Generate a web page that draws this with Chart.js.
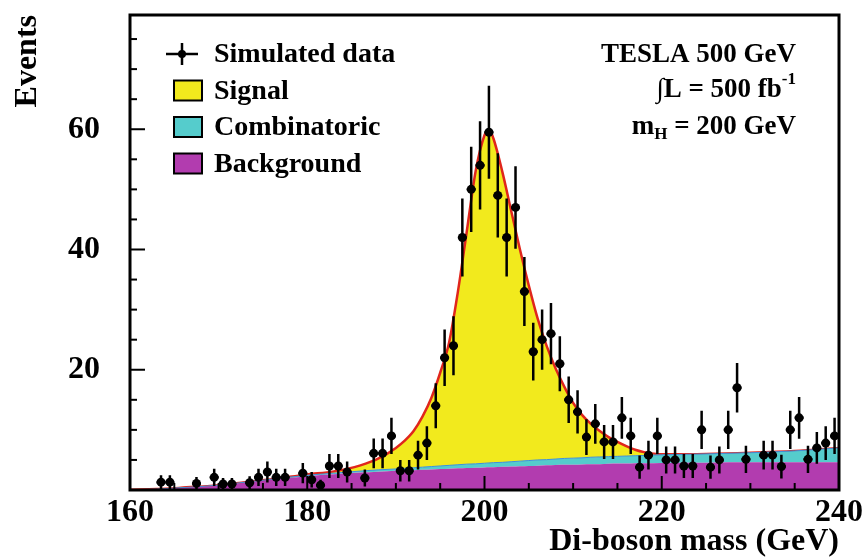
<!DOCTYPE html>
<html>
<head>
<meta charset="utf-8">
<script src="https://cdn.jsdelivr.net/npm/chart.js@4.4.1/dist/chart.umd.min.js"></script>
<style>
  html, body { margin: 0; padding: 0; background: #fff; }
</style>
</head>
<body>
<canvas id="chart-diboson" width="868" height="558"></canvas>
<script>
// measured bins (1 GeV wide), centre of each bin and event count
var mass = [163.5,164.5,167.5,169.5,170.5,171.5,173.5,174.5,175.5,176.5,
            177.5,179.5,180.5,181.5,182.5,183.5,184.5,186.5,187.5,188.5,
            189.5,190.5,191.5,192.5,193.5,194.5,195.5,196.5,197.5,198.5,
            199.5,200.5,201.5,202.5,203.5,204.5,205.5,206.5,207.5,208.5,
            209.5,210.5,211.5,212.5,213.5,214.5,215.5,216.5,217.5,218.5,
            219.5,220.5,221.5,222.5,223.5,224.5,225.5,226.5,227.5,228.5,
            229.5,231.5,232.5,233.5,234.5,235.5,236.5,237.5,238.5,239.5];
var events = [1.3,1.3,1.1,2.1,1.0,1.0,1.2,2.1,3.0,2.1,
              2.1,2.8,1.7,0.8,4.0,4.0,3.0,2.0,6.1,6.1,
              9.0,3.2,3.2,5.8,7.8,14,22,24,42,50,
              54,59.5,49,42,47,33,23,25,26,21,
              15,13,8.8,11,8,8,12,9,3.8,5.8,
              9,5,5,4,4,10,3.8,5,10,17,
              5.1,5.8,5.8,3.9,10,12,5.1,7,7.8,9];

// fit components, stacked: background + combinatoric + signal
var fitMass = [160,163,166,170,173,176,180,183,186,188,
               190,191,192,193,194,195,196,197,198,199,
               200,200.5,201,202,203,204,205,206,207,208,
               209,210,211,212,213,214,215,216,217,218,
               220,225,230,235,240];
var bgFit = [0.05,0.15,0.35,0.7,1.2,1.7,2.3,2.6,2.9,3.05,
             3.2,3.25,3.3,3.35,3.4,3.5,3.55,3.6,3.65,3.7,
             3.75,3.8,3.8,3.85,3.9,3.95,4.0,4.05,4.1,4.15,
             4.2,4.2,4.25,4.3,4.3,4.35,4.4,4.4,4.45,4.45,
             4.5,4.55,4.6,4.6,4.6];
var combFit = [0,0,0.05,0.1,0.1,0.1,0.15,0.2,0.25,0.3,
               0.3,0.35,0.4,0.45,0.5,0.5,0.55,0.6,0.65,0.65,
               0.7,0.7,0.75,0.75,0.8,0.85,0.9,0.95,0.95,1.0,
               1.05,1.1,1.1,1.15,1.2,1.2,1.2,1.25,1.25,1.3,
               1.35,1.45,1.6,1.9,2.4];
var sigFit = [0,0,0,0,0,0,0.15,0.3,0.95,1.85,
              3.5,4.6,6.1,8.4,11.4,15.5,20.4,28.8,38.7,48.65,
              54.55,55.5,53.95,48.4,41.8,35.2,29.1,23.5,18.95,15.15,
              11.95,9.2,7.15,5.55,4.3,3.25,2.4,1.65,1.0,0.55,
              0.1,0,0,0,0];

var massTicks = [160, 180, 200, 220, 240];
var eventTicks = [20, 40, 60];

var serif = '"Liberation Serif", "Times New Roman", serif';

function pts(xs, ys) {
  return xs.map(function(x, i) { return {x: x, y: ys[i]}; });
}

// vertical error bars (sqrt N) and bin-width horizontal bars on the data
var errorBars = {
  id: 'errorBars',
  afterDatasetsDraw: function(chart) {
    var ctx = chart.ctx, xs = chart.scales.x, ys = chart.scales.y;
    ctx.save();
    ctx.strokeStyle = '#000';
    ctx.lineWidth = 2.5;
    mass.forEach(function(m, i) {
      var v = events[i], e = Math.sqrt(v);
      var px = xs.getPixelForValue(m), py = ys.getPixelForValue(v);
      ctx.beginPath();
      ctx.moveTo(px, ys.getPixelForValue(v + e));
      ctx.lineTo(px, ys.getPixelForValue(Math.max(v - e, 0)));
      ctx.moveTo(xs.getPixelForValue(m - 0.5), py);
      ctx.lineTo(xs.getPixelForValue(m + 0.5), py);
      ctx.stroke();
    });
    ctx.restore();
  }
};

// box around the plot with inward tick marks
var frame = {
  id: 'frame',
  afterDraw: function(chart) {
    var ctx = chart.ctx, a = chart.chartArea, xs = chart.scales.x, ys = chart.scales.y;
    ctx.save();
    ctx.strokeStyle = '#000';
    ctx.lineWidth = 2;
    for (var m = xs.min; m <= xs.max; m += 5) {
      var px = xs.getPixelForValue(m), len = massTicks.indexOf(m) >= 0 ? 14 : 7;
      ctx.beginPath(); ctx.moveTo(px, a.bottom); ctx.lineTo(px, a.bottom - len); ctx.stroke();
    }
    for (var v = 5; v < ys.max; v += 5) {
      var py = ys.getPixelForValue(v), l2 = eventTicks.indexOf(v) >= 0 ? 15 : 7;
      ctx.beginPath(); ctx.moveTo(a.left, py); ctx.lineTo(a.left + l2, py); ctx.stroke();
    }
    ctx.lineWidth = 3;
    ctx.strokeRect(a.left, a.top, a.right - a.left, a.bottom - a.top);
    ctx.restore();
  }
};

// legend and run conditions written inside the plot
function richText(ctx, parts, right, y) {
  var total = 0;
  parts.forEach(function(p) {
    ctx.font = 'bold ' + p.s + 'px ' + serif;
    p.w = ctx.measureText(p.t).width;
    total += p.w;
  });
  var x = right - total;
  parts.forEach(function(p) {
    ctx.font = 'bold ' + p.s + 'px ' + serif;
    ctx.fillText(p.t, x, y + (p.dy || 0));
    x += p.w;
  });
}

var annotations = {
  id: 'annotations',
  afterDraw: function(chart) {
    var ctx = chart.ctx, a = chart.chartArea, ds = chart.data.datasets;
    ctx.save();
    ctx.textBaseline = 'middle';
    ctx.textAlign = 'left';
    var order = [0, 3, 2, 1];
    order.forEach(function(k, row) {
      var d = ds[k], y = a.top + 39 + row * 36.5, x0 = a.left + 44;
      ctx.fillStyle = '#000';
      ctx.strokeStyle = '#000';
      if (d.showLine === false) {
        ctx.lineWidth = 2.5;
        ctx.beginPath();
        ctx.moveTo(x0 - 8, y); ctx.lineTo(x0 + 24, y);
        ctx.moveTo(x0 + 8, y - 11); ctx.lineTo(x0 + 8, y + 11);
        ctx.stroke();
        ctx.beginPath(); ctx.arc(x0 + 8, y, 4, 0, 2 * Math.PI); ctx.fill();
      } else {
        ctx.fillStyle = d.backgroundColor;
        ctx.fillRect(x0, y - 10, 28, 20);
        ctx.lineWidth = 2;
        ctx.strokeRect(x0, y - 10, 28, 20);
      }
      ctx.fillStyle = '#000';
      ctx.font = 'bold 28px ' + serif;
      ctx.fillText(d.label, x0 + 40, y + 1);
    });

    var right = a.right - 43;
    richText(ctx, [{t: 'TESLA 500 GeV', s: 27}], right, a.top + 40);
    richText(ctx, [{t: '\u222BL = 500 fb', s: 27}, {t: '-1', s: 17, dy: -10}], right, a.top + 75);
    richText(ctx, [{t: 'm', s: 27}, {t: 'H', s: 17, dy: 8}, {t: ' = 200 GeV', s: 27}], right, a.top + 112);
    ctx.restore();
  }
};

var canvas = document.getElementById('chart-diboson');
var chart = new Chart(canvas, {
  type: 'line',
  data: {
    datasets: [
      {
        label: 'Simulated data',
        data: pts(mass, events),
        stack: 'data',
        showLine: false,
        pointRadius: 4.5,
        pointBackgroundColor: '#000',
        pointBorderWidth: 0,
        backgroundColor: '#000'
      },
      {
        label: 'Background',
        data: pts(fitMass, bgFit),
        stack: 'fit',
        fill: 'origin',
        backgroundColor: '#b23caf',
        borderWidth: 0,
        pointRadius: 0,
        cubicInterpolationMode: 'monotone'
      },
      {
        label: 'Combinatoric',
        data: pts(fitMass, combFit),
        stack: 'fit',
        fill: '-1',
        backgroundColor: '#55cccc',
        borderColor: '#3f8fd8',
        borderWidth: 1,
        pointRadius: 0,
        cubicInterpolationMode: 'monotone'
      },
      {
        label: 'Signal',
        data: pts(fitMass, sigFit),
        stack: 'fit',
        fill: '-1',
        backgroundColor: '#f2ea1d',
        borderColor: '#e0261c',
        borderWidth: 2.5,
        pointRadius: 0,
        cubicInterpolationMode: 'monotone'
      }
    ]
  },
  options: {
    responsive: false,
    animation: false,
    events: [],
    layout: { padding: { top: 15, right: 29, left: 0, bottom: 0 } },
    plugins: {
      legend: { display: false },
      tooltip: { enabled: false }
    },
    scales: {
      x: {
        type: 'linear',
        min: 160,
        max: 240,
        grid: { display: false, drawTicks: false },
        border: { display: false },
        ticks: {
          stepSize: 20,
          padding: 4,
          color: '#000',
          font: { family: serif, size: 32, weight: 'bold' }
        },
        title: {
          display: true,
          text: 'Di-boson mass (GeV)',
          align: 'end',
          color: '#000',
          padding: { top: 0, bottom: 0 },
          font: { family: serif, size: 32, weight: 'bold', lineHeight: 1 }
        },
        afterFit: function(scale) {
          scale.height = 68;
          scale.paddingLeft = 0;
          scale.paddingRight = 0;
        }
      },
      y: {
        min: 0,
        max: 79,
        stacked: true,
        grid: { display: false, drawTicks: false },
        border: { display: false },
        ticks: {
          stepSize: 20,
          includeBounds: false,
          padding: 30,
          color: '#000',
          font: { family: serif, size: 32, weight: 'bold' },
          callback: function(v) { return eventTicks.indexOf(v) >= 0 ? v : ''; }
        },
        title: {
          display: true,
          text: 'Events',
          align: 'end',
          color: '#000',
          padding: { top: 12, bottom: 0 },
          font: { family: serif, size: 32, weight: 'bold', lineHeight: 1 }
        },
        afterFit: function(scale) {
          scale.width = 130;
          scale.paddingTop = 0;
          scale.paddingBottom = 0;
        }
      }
    }
  },
  plugins: [errorBars, frame, annotations]
});
</script>
</body>
</html>
